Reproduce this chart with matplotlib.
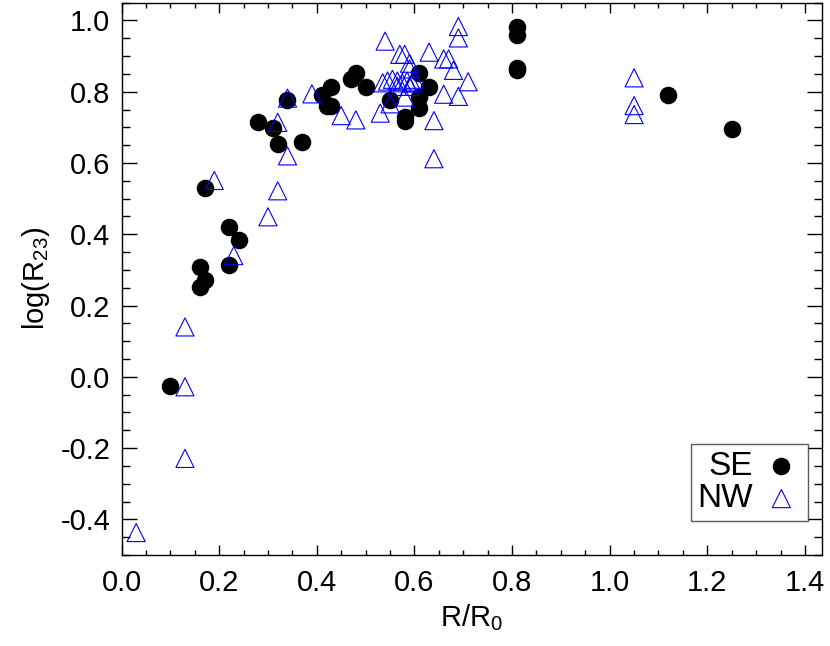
import matplotlib
matplotlib.use("Agg")
import matplotlib.pyplot as plt
from matplotlib.ticker import MultipleLocator, FormatStrFormatter

plt.rcParams['font.family'] = ['Liberation Sans', 'DejaVu Sans']
plt.rcParams['mathtext.default'] = 'regular'

# SE region (filled circles)
se_r = [0.10, 0.17, 0.22, 0.24, 0.22, 0.16, 0.17, 0.16, 0.34, 0.28, 0.31,
        0.32, 0.37, 0.41, 0.43, 0.42, 0.43, 0.47, 0.48, 0.50, 0.55, 0.58,
        0.58, 0.61, 0.63, 0.61, 0.61, 0.81, 0.81, 0.81, 0.81, 1.12, 1.25]
se_logr23 = [-0.025, 0.53, 0.42, 0.385, 0.315, 0.307, 0.272, 0.252, 0.778,
             0.714, 0.699, 0.654, 0.658, 0.792, 0.813, 0.761, 0.761, 0.836,
             0.852, 0.813, 0.777, 0.728, 0.717, 0.852, 0.813, 0.785, 0.754,
             0.983, 0.960, 0.866, 0.862, 0.792, 0.696]

# NW region (open triangles)
nw_r = [0.03, 0.13, 0.13, 0.13, 0.19, 0.23, 0.30, 0.32, 0.34, 0.32, 0.34,
        0.39, 0.45, 0.48, 0.54, 0.53, 0.55, 0.57, 0.58, 0.59, 0.63, 0.66,
        0.67, 0.68, 0.69, 0.69, 0.71, 0.66, 0.69, 0.64, 0.64, 0.58, 0.59,
        0.535, 0.545, 0.555, 0.565, 0.575, 0.585, 0.595, 0.60, 0.565, 0.59,
        1.05, 1.05, 1.05]
nw_logr23 = [-0.437, 0.140, -0.028, -0.229, 0.551, 0.340, 0.449, 0.522,
             0.620, 0.714, 0.782, 0.794, 0.733, 0.721, 0.942, 0.740, 0.766,
             0.905, 0.905, 0.880, 0.911, 0.892, 0.892, 0.860, 0.983, 0.951,
             0.828, 0.793, 0.787, 0.719, 0.612, 0.785, 0.864,
             0.825, 0.830, 0.835, 0.830, 0.825, 0.830, 0.825, 0.835, 0.815,
             0.815, 0.839, 0.761, 0.736]

fig = plt.figure(figsize=(8.3, 6.46), dpi=100)
ax = fig.add_axes([0.1464, 0.1409, 0.844, 0.855])

ax.scatter(se_r, se_logr23, s=135, marker='o', color='black', label='SE', zorder=3)
ax.scatter(nw_r, nw_logr23, s=170, marker='^', facecolors='none',
           edgecolors='blue', linewidths=0.8, label='NW', zorder=4)

ax.set_xlim(0, 1.435)
ax.set_ylim(-0.5, 1.05)
ax.xaxis.set_major_locator(MultipleLocator(0.2))
ax.xaxis.set_minor_locator(MultipleLocator(0.05))
ax.yaxis.set_major_locator(MultipleLocator(0.2))
ax.yaxis.set_minor_locator(MultipleLocator(0.05))
ax.xaxis.set_major_formatter(FormatStrFormatter('%.1f'))
ax.yaxis.set_major_formatter(FormatStrFormatter('%.1f'))

ax.tick_params(axis='both', which='both', direction='in', top=True, right=True,
               width=1, labelsize=21)
ax.tick_params(axis='x', which='major', length=7.5, pad=10)
ax.tick_params(axis='x', which='minor', length=3.7)
ax.tick_params(axis='y', which='major', length=10.5, pad=8)
ax.tick_params(axis='y', which='minor', length=5.5)
for sp in ax.spines.values():
    sp.set_linewidth(1)

ax.set_xlabel(r'R/R$_0$', fontsize=21, labelpad=4)
ax.set_ylabel(r'log(R$_{23}$)', fontsize=21, labelpad=6)

leg = ax.legend(loc='lower right', bbox_to_anchor=(0.98, 0.0615), markerfirst=False,
                fontsize=24, frameon=True, fancybox=False, edgecolor='#333333',
                handletextpad=0.25, borderpad=0.2, labelspacing=0.05,
                handlelength=1.2, borderaxespad=0)
leg.get_frame().set_linewidth(1)

fig.savefig('out.png', dpi=100)
